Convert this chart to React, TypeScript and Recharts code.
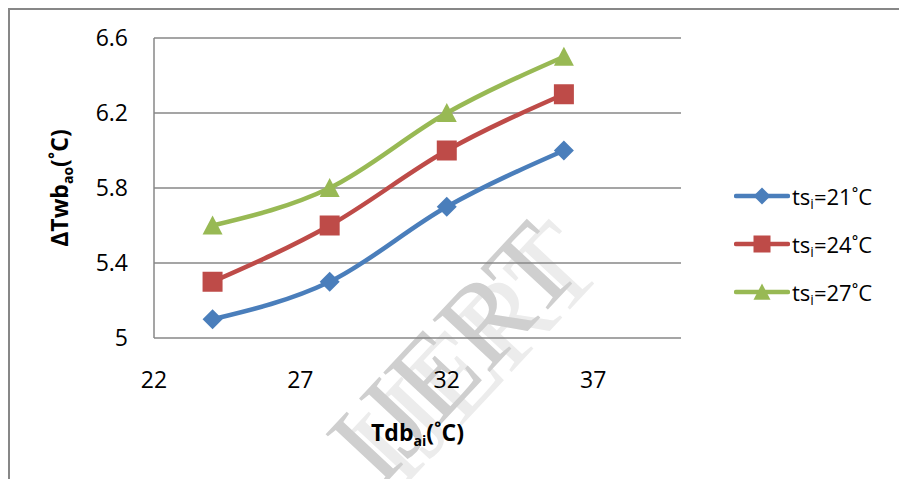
import React from 'react';
import { LineChart, Line, XAxis, YAxis, CartesianGrid, Legend } from 'recharts';

// dry bulb inlet temperature (°C) and outlet wet-bulb rise per supply temperature
const tdb = [24, 28, 32, 36];
const ts21 = [5.1, 5.3, 5.7, 6.0];
const ts24 = [5.3, 5.6, 6.0, 6.3];
const ts27 = [5.6, 5.8, 6.2, 6.5];
const supplyTemps = [21, 24, 27];
const xTicks = [22, 27, 32, 37];
const yTicks = [5, 5.4, 5.8, 6.2, 6.6];

const data = tdb.map((t, i) => ({ tdb: t, ts21: ts21[i], ts24: ts24[i], ts27: ts27[i] }));

const FONT = '"Open Sans", sans-serif';
const GRID = '#878787';

type Shape = 'diamond' | 'square' | 'triangle';

const series: { key: string; temp: number; color: string; shape: Shape }[] = [
  { key: 'ts21', temp: supplyTemps[0], color: '#4a7ebb', shape: 'diamond' },
  { key: 'ts24', temp: supplyTemps[1], color: '#be4b48', shape: 'square' },
  { key: 'ts27', temp: supplyTemps[2], color: '#98b954', shape: 'triangle' },
];

const Marker = ({ shape, cx, cy, color, s = 1 }: { shape: Shape; cx: number; cy: number; color: string; s?: number }) => {
  if (shape === 'diamond') {
    const r = 10 * s;
    return <polygon points={`${cx},${cy - r} ${cx + r},${cy} ${cx},${cy + r} ${cx - r},${cy}`} fill={color} />;
  }
  if (shape === 'square') {
    const h = 10 * s;
    return <rect x={cx - h} y={cy - h} width={2 * h} height={2 * h} fill={color} />;
  }
  return (
    <polygon
      points={`${cx},${cy - 10 * s} ${cx + 10 * s},${cy + 9 * s} ${cx - 10 * s},${cy + 9 * s}`}
      fill={color}
    />
  );
};

const LegendBox = () => (
  <div style={{ fontFamily: FONT, fontSize: 22, color: '#000' }}>
    {series.map((s) => (
      <div key={s.key} style={{ display: 'flex', alignItems: 'center', height: 48 }}>
        <svg width={56} height={24}>
          <line x1={2} y1={12} x2={54} y2={12} stroke={s.color} strokeWidth={4.5} strokeLinecap="round" />
          <Marker shape={s.shape} cx={28} cy={12} color={s.color} s={0.85} />
        </svg>
        <span style={{ marginLeft: 2, whiteSpace: 'nowrap' }}>
          ts<span style={{ fontSize: 14, position: 'relative', top: 4 }}>i</span>={s.temp}˚C
        </span>
      </div>
    ))}
  </div>
);

const YTitle = (props: any) => {
  const vb = props.viewBox;
  const cy = vb.y + vb.height / 2;
  const x = 58;
  return (
    <text
      x={x}
      y={cy}
      transform={`rotate(-90, ${x}, ${cy})`}
      textAnchor="middle"
      fontFamily={FONT}
      fontSize={23}
      fontWeight="bold"
      fill="#000"
    >
      <tspan>ΔTwb</tspan>
      <tspan fontSize={14} dy={5}>ao</tspan>
      <tspan dy={-5}>(˚C)</tspan>
    </text>
  );
};

const XTitle = (props: any) => {
  const vb = props.viewBox;
  const cx = vb.x + vb.width / 2;
  return (
    <text x={cx} y={431} textAnchor="middle" fontFamily={FONT} fontSize={23} fontWeight="bold" fill="#000">
      <tspan>Tdb</tspan>
      <tspan fontSize={14} dy={5}>ai</tspan>
      <tspan dy={-5}>(˚C)</tspan>
    </text>
  );
};

const tickStyle = { fontFamily: FONT, fontSize: 23, fill: '#000' };

// diagonal publisher mark behind the plot
const Watermark = () => {
  const x = 472;
  const y = 370;
  const common = {
    textAnchor: 'middle' as const,
    fontFamily: '"Liberation Serif", serif',
    fontSize: 118,
  };
  return (
    <svg width={889} height={469} style={{ position: 'absolute', left: 0, top: 0 }}>
      <text x={x + 22} y={y} transform={`rotate(-47, ${x + 22}, ${y})`} fill="#ececec" {...common}>
        IJERT
      </text>
      <text x={x} y={y} transform={`rotate(-47, ${x}, ${y})`} fill="#cfcfcf" {...common}>
        IJERT
      </text>
    </svg>
  );
};

export default function App() {
  return (
    <div
      style={{
        position: 'fixed',
        left: 8,
        top: 8,
        width: 891,
        height: 471,
        boxSizing: 'border-box',
        borderTop: `2px solid ${GRID}`,
        borderLeft: `2px solid ${GRID}`,
        background: '#fff',
        overflow: 'hidden',
      }}
    >
      <Watermark />
      <div style={{ position: 'absolute', left: 0, top: 0 }}>
        <LineChart width={889} height={469} data={data} margin={{ top: 28, right: 218, bottom: 0, left: 0 }}>
          <CartesianGrid vertical={false} stroke={GRID} strokeWidth={1.5} />
          <XAxis
            type="number"
            dataKey="tdb"
            domain={[22, 40]}
            ticks={xTicks}
            height={141}
            axisLine={false}
            tickLine={false}
            tickSize={0}
            tickMargin={34}
            tick={tickStyle}
            label={<XTitle />}
          />
          <YAxis
            type="number"
            domain={[5, 6.6]}
            ticks={yTicks}
            width={144}
            axisLine={{ stroke: GRID, strokeWidth: 1.5 }}
            tickLine={false}
            tickSize={0}
            tickMargin={26}
            tick={tickStyle}
            label={<YTitle />}
          />
          <Legend
            layout="horizontal"
            verticalAlign="middle"
            align="center"
            content={<LegendBox />}
            wrapperStyle={{ left: 724, top: 162, width: 'auto', height: 'auto' }}
          />
          {series.map((s) => (
            <Line
              key={s.key}
              type="monotone"
              dataKey={s.key}
              stroke={s.color}
              strokeWidth={4.5}
              isAnimationActive={false}
              dot={(p: any) => <Marker key={`${s.key}-${p.index}`} shape={s.shape} cx={p.cx} cy={p.cy} color={s.color} />}
              activeDot={false}
            />
          ))}
        </LineChart>
      </div>
    </div>
  );
}
